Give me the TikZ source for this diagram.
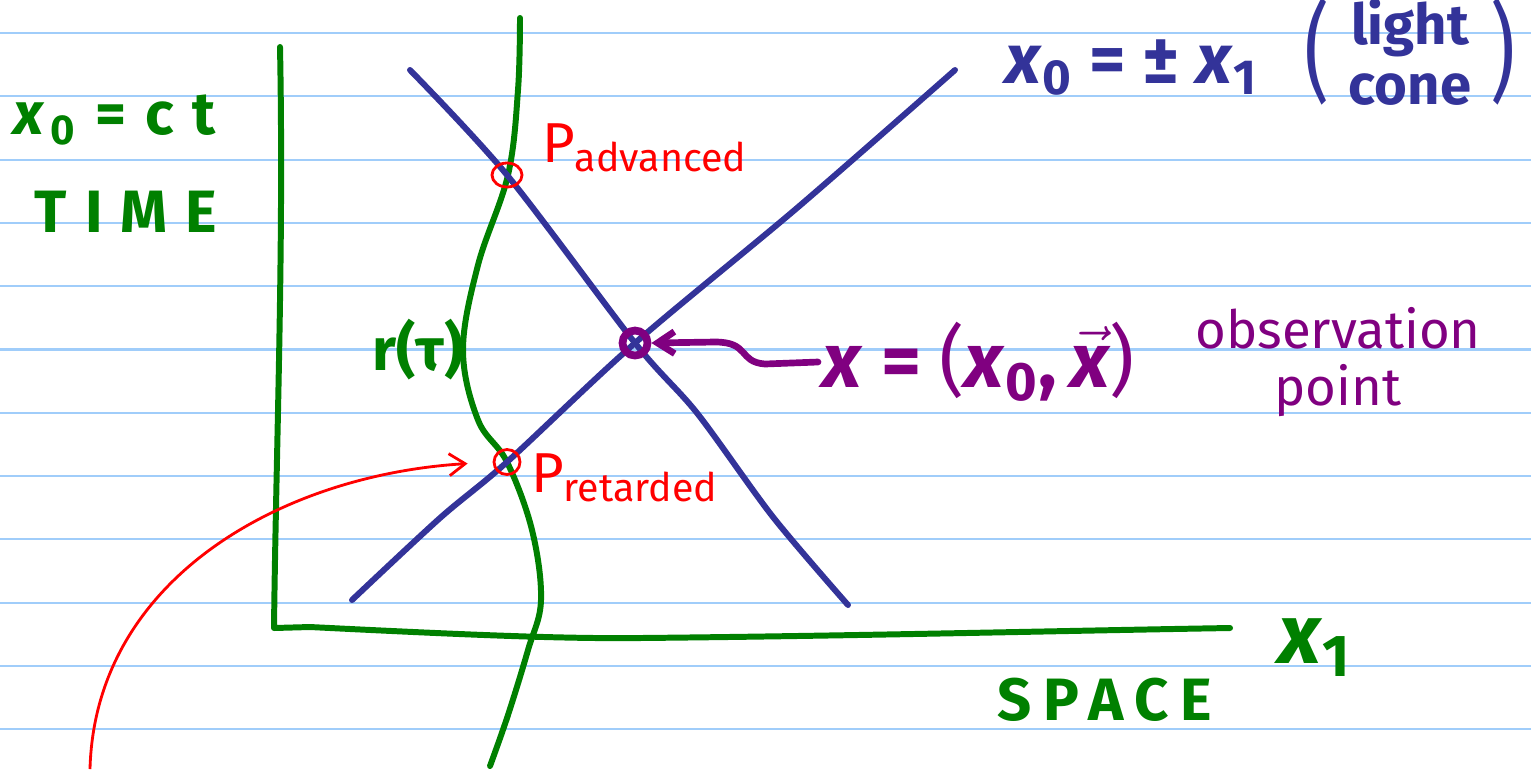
\documentclass[tikz,border=0pt]{standalone}
\usepackage{fontspec}
\usepackage{graphicx}
\setmainfont{Fira Sans}
\usetikzlibrary{shapes.geometric, arrows.meta, positioning, calc}

\definecolor{axisgreen}{RGB}{0,128,0}
\definecolor{coneblue}{RGB}{51,51,153}
\definecolor{obspurple}{RGB}{128,0,128}
\definecolor{rulingblue}{RGB}{160,205,250}

\newcommand{\xs}[1]{\textit{x}\textsubscript{#1}}
\newcommand{\tallparen}[1]{{\mdseries\scalebox{1}[1.4]{#1}}}

\begin{document}
\begin{tikzpicture}[
    x=0.01cm, y=-0.01cm,
    ruling/.style={draw=rulingblue, line width=0.6pt},
    axis/.style={draw=axisgreen, line width=1.7pt, line cap=round, line join=round},
    cone/.style={draw=coneblue, line width=1.7pt, line cap=round},
    event/.style={draw=red, ellipse, line width=0.8pt, inner sep=0pt, minimum width=0.3cm, minimum height=0.24cm},
    obs/.style={draw=obspurple, circle, line width=2.2pt, inner sep=0pt, minimum size=0.25cm},
    green label/.style={text=axisgreen, font=\fontsize{17}{20}\selectfont\bfseries, inner sep=1pt},
    red label/.style={text=red, font=\fontsize{16}{18}\selectfont, inner sep=1pt},
    purple label/.style={text=obspurple, inner sep=1pt}
]
\useasboundingbox (0,0) rectangle (1531,769);

% Ruled paper
\foreach \k in {0,...,11}
    \draw[ruling] (0,{33+63.3*\k}) -- (1531,{33+63.3*\k});

% Axes
\draw[axis] (280,47) .. controls (284,250) and (276,450) .. (274,628)
    -- (310,627) .. controls (450,634) and (560,639) .. (640,638)
    .. controls (850,636) and (1050,631) .. (1230,628);

% World line r(tau)
\draw[axis] plot[smooth, tension=0.6] coordinates {(520,18) (518,90) (508,175) (478,265) (463,350)
    (478,420) (507,462) (532,530) (541,600) (528,650) (508,715) (490,766)};

% Light cone
\draw[cone] plot[smooth, tension=0.5] coordinates {(410,70) (507,175) (635,343) (697,413) (773,517) (848,605)};
\draw[cone] plot[smooth, tension=0.5] coordinates {(352,600) (440,518) (507,462) (635,343) (797,208) (955,70)};

% Events
\node[event] (padv) at (507,175) {};
\node[event, minimum width=0.26cm, minimum height=0.25cm] (pret) at (507,462) {};
\node[obs] (obs) at (635,343) {};

% Labels
\node[green label, font=\fontsize{17}{20}\selectfont\bfseries\addfontfeature{LetterSpace=8}] (ctlbl) at (115,120) {\xs{0} = c t};
\node[green label, font=\fontsize{17}{20}\selectfont\bfseries\addfontfeature{LetterSpace=30}] (timelbl) at (126,212) {TIME};
\node[green label] (rlbl) at (418,350) {r(τ)};
\node[green label, font=\fontsize{24}{26}\selectfont\bfseries] (x1lbl) at (1315,648) {\xs{1}};
\node[green label, font=\fontsize{17}{20}\selectfont\bfseries\addfontfeature{LetterSpace=20}] (spacelbl) at (1105,700) {SPACE};
\node[text=coneblue, font=\fontsize{20}{22}\selectfont\bfseries, inner sep=1pt] (conelbl) at (1132,68) {\xs{0} = ± \xs{1}};
\node[text=coneblue, font=\fontsize{16}{17}\selectfont\bfseries, inner sep=0pt, align=center] (lightlbl) at (1410,52) {light\\cone};
\node[text=coneblue, font=\fontsize{22}{24}\selectfont, inner sep=0pt, left=0.18cm of lightlbl] (lparen) {\tallparen{(}};
\node[text=coneblue, font=\fontsize{22}{24}\selectfont, inner sep=0pt, right=0.18cm of lightlbl] (rparen) {\tallparen{)}};
\node[red label] (advlbl) at (645,148) {P\textsubscript{advanced}};
\node[red label] (retlbl) at (625,478) {P\textsubscript{retarded}};
\node[purple label, font=\fontsize{22}{24}\selectfont\bfseries, anchor=west] (xlbl) at (818,362)
    {\textit{x} = {\mdseries(}\xs{0},\,$\vec{\mbox{\itshape x}}${\mdseries)}};
\node[purple label, font=\fontsize{15}{16}\selectfont, align=center] (obslbl) at (1338,362) {observation\\point};

% Arrows
\draw[obspurple, line width=1.9pt, line cap=round, -{Straight Barb[length=0.17cm, width=0.22cm]}]
    (xlbl.west) -- (765,364) .. controls (738,362) and (750,342) .. (715,342) -- (obs.east);
\coordinate (redtail) at (90,769);
\draw[red, line width=0.8pt, shorten >=0.25cm, -{Straight Barb[length=0.16cm, width=0.22cm]}]
    (redtail) .. controls (95,580) and (280,475) .. (pret.west);

\end{tikzpicture}
\end{document}
